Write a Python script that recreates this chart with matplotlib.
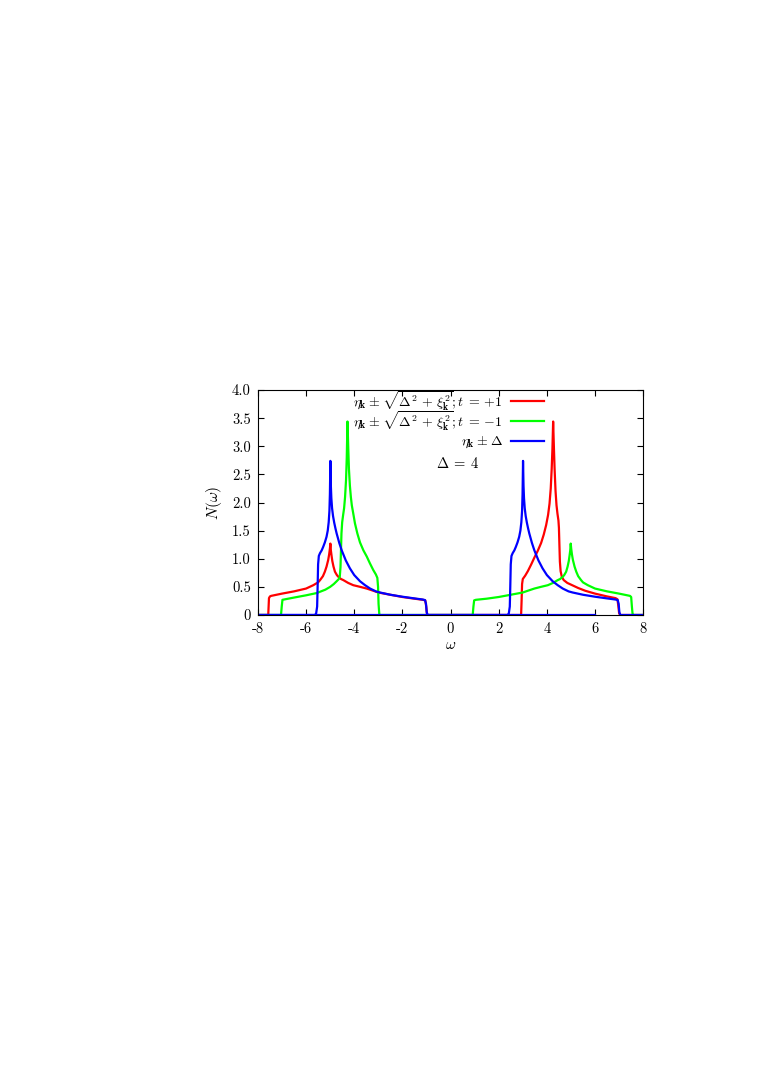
import matplotlib
matplotlib.use('Agg')
import matplotlib.pyplot as plt

plt.rcParams['font.family'] = ['cmr10', 'DejaVu Serif']
plt.rcParams['mathtext.fontset'] = 'cm'
plt.rcParams['axes.unicode_minus'] = False

# Densidad de estados
red_x = [-8, -7.57, -7.54, -7.5, -7.45, -7.0, -6.5, -6.0, -5.7, -5.5, -5.42, -5.3, -5.22, -5.15,
         -5.08, -5.04, -5.01, -4.99, -4.97, -4.94, -4.91, -4.86, -4.8, -4.72, -4.66, -4.55, -4.45,
         -4.25, -4.04, -3.75, -3.48, -3.2, -3.0, -2.5, -2.0, -1.5, -1.15, -1.05, -1.01, -0.98, -0.95,
         2.93, 2.95, 2.97, 3.0, 3.1, 3.21, 3.35, 3.48, 3.62, 3.76, 3.87, 3.97, 4.05, 4.11, 4.16, 4.2,
         4.23, 4.26, 4.29, 4.32, 4.36, 4.4, 4.44, 4.48, 4.5, 4.52, 4.54, 4.57, 4.62, 4.7, 4.85, 5.0,
         5.3, 5.6, 6.0, 6.5, 6.85, 6.93, 6.97, 7.0, 7.04, 8]
red_y = [0, 0, 0.3, 0.33, 0.34, 0.38, 0.42, 0.47, 0.53, 0.58, 0.62, 0.69, 0.77, 0.86,
         0.98, 1.08, 1.18, 1.27, 1.15, 1.05, 0.96, 0.86, 0.77, 0.71, 0.68, 0.64, 0.62,
         0.57, 0.53, 0.5, 0.47, 0.43, 0.40, 0.36, 0.32, 0.29, 0.27, 0.26, 0.15, 0.02, 0,
         0, 0.25, 0.55, 0.64, 0.7, 0.78, 0.9, 1.02, 1.14, 1.28, 1.43, 1.6, 1.78, 1.98, 2.25, 2.6,
         2.95, 3.44, 3.0, 2.6, 2.2, 1.95, 1.8, 1.68, 1.55, 1.25, 0.95, 0.78, 0.68, 0.62, 0.57, 0.54,
         0.48, 0.43, 0.38, 0.33, 0.3, 0.28, 0.15, 0.03, 0, 0]

green_x = [-8, -7.04, -7.01, -6.98, -6.5, -6.25, -6.0, -5.56, -5.2, -5.0, -4.85, -4.73, -4.64, -4.6,
           -4.57, -4.55, -4.53, -4.5, -4.46, -4.42, -4.38, -4.34, -4.31, -4.28, -4.25, -4.22, -4.18,
           -4.14, -4.1, -4.03, -3.97, -3.87, -3.76, -3.62, -3.48, -3.35, -3.21, -3.1, -3.04, -3.01,
           -2.99, -2.96, -2.93,
           0.92, 0.95, 0.98, 1.05, 1.5, 2.0, 2.5, 3.0, 3.2, 3.48, 3.75, 4.04, 4.25, 4.45, 4.55, 4.66,
           4.72, 4.8, 4.86, 4.91, 4.94, 4.97, 4.99, 5.01, 5.04, 5.08, 5.15, 5.22, 5.3, 5.42, 5.5, 5.7,
           6.0, 6.5, 7.0, 7.45, 7.5, 7.53, 7.56, 7.6, 8]
green_y = [0, 0, 0.15, 0.27, 0.31, 0.33, 0.35, 0.39, 0.45, 0.5, 0.55, 0.6, 0.64, 0.68,
           0.85, 1.15, 1.45, 1.65, 1.78, 1.9, 2.1, 2.4, 2.8, 3.44, 3.0, 2.6, 2.3,
           2.1, 1.95, 1.78, 1.63, 1.45, 1.29, 1.15, 1.04, 0.92, 0.8, 0.72, 0.66, 0.5,
           0.2, 0.02, 0,
           0, 0.15, 0.26, 0.27, 0.29, 0.32, 0.36, 0.40, 0.43, 0.47, 0.5, 0.53, 0.57, 0.62, 0.64, 0.68,
           0.71, 0.77, 0.86, 0.96, 1.05, 1.15, 1.27, 1.18, 1.08, 0.98, 0.86, 0.77, 0.69, 0.62, 0.58, 0.53,
           0.47, 0.42, 0.38, 0.34, 0.32, 0.15, 0.01, 0, 0]

blue_x = [-8, -5.63, -5.58, -5.54, -5.52, -5.5, -5.47, -5.42, -5.35, -5.29, -5.22, -5.15, -5.1,
          -5.06, -5.03, -5.01, -4.99, -4.97, -4.95, -4.92, -4.88, -4.83, -4.78, -4.73, -4.62, -4.52,
          -4.35, -4.18, -4.0, -3.76, -3.55, -3.34, -3.1, -2.93, -2.5, -2.0, -1.5, -1.15, -1.06, -1.02,
          -0.99, -0.95,
          2.37, 2.42, 2.46, 2.48, 2.5, 2.53, 2.58, 2.65, 2.71, 2.78, 2.85, 2.9,
          2.94, 2.97, 2.99, 3.01, 3.03, 3.05, 3.08, 3.12, 3.17, 3.22, 3.27, 3.38, 3.48,
          3.65, 3.82, 4.0, 4.24, 4.45, 4.66, 4.9, 5.07, 5.5, 6.0, 6.5, 6.85, 6.94, 6.98,
          7.01, 7.05, 8]
blue_y = [0, 0, 0.03, 0.15, 0.5, 0.9, 1.05, 1.1, 1.15, 1.21, 1.29, 1.39, 1.5,
          1.65, 1.85, 2.15, 2.74, 2.3, 2.08, 1.9, 1.76, 1.64, 1.54, 1.45, 1.28, 1.15,
          0.97, 0.83, 0.71, 0.6, 0.53, 0.47, 0.42, 0.4, 0.36, 0.325, 0.295, 0.275, 0.265, 0.2,
          0.05, 0,
          0, 0.03, 0.15, 0.5, 0.9, 1.05, 1.1, 1.15, 1.21, 1.29, 1.39, 1.5,
          1.65, 1.85, 2.15, 2.74, 2.3, 2.08, 1.9, 1.76, 1.64, 1.54, 1.45, 1.28, 1.15,
          0.97, 0.83, 0.71, 0.6, 0.53, 0.47, 0.42, 0.4, 0.36, 0.325, 0.295, 0.275, 0.265, 0.2,
          0.05, 0, 0]

# linea base azul (se corta entre 6 y 7)
blue_base_x = [-8, 6]
blue_base_y = [0, 0]

x_ticks = [-8, -6, -4, -2, 0, 2, 4, 6, 8]
x_labels = ['-8', '-6', '-4', '-2', '0', '2', '4', '6', '8']
y_ticks = [0, 0.5, 1.0, 1.5, 2.0, 2.5, 3.0, 3.5, 4.0]
y_labels = ['0', '0.5', '1.0', '1.5', '2.0', '2.5', '3.0', '3.5', '4.0']

labels = [r'$\eta_{\mathbf{k}} \:\pm\: \sqrt{\Delta^2 \,+\, \xi_{\mathbf{k}}^2}; t \:=\: {+}1$',
          r'$\eta_{\mathbf{k}} \:\pm\: \sqrt{\Delta^2 \,+\, \xi_{\mathbf{k}}^2}; t \:=\: {-}1$',
          r'$\eta_{\mathbf{k}} \:\pm\: \Delta$']
colors = ['#ff0000', '#00ff00', '#0000ff']

fig = plt.figure(figsize=(7.63, 10.78), dpi=100)
ax = fig.add_axes([0.338, 0.4295, 0.505, 0.2087])

lw = 1.6
ax.plot(red_x, red_y, color=colors[0], lw=lw)
ax.plot(green_x, green_y, color=colors[1], lw=lw)
ax.plot(blue_base_x, blue_base_y, color=colors[2], lw=lw)
ax.plot(blue_x, blue_y, color=colors[2], lw=lw)

ax.set_xlim(-8, 8)
ax.set_ylim(0, 4)
ax.set_xticks(x_ticks)
ax.set_xticklabels(x_labels)
ax.set_yticks(y_ticks)
ax.set_yticklabels(y_labels)
ax.tick_params(direction='in', length=4.5, width=0.8, top=True, right=True,
               labelsize=10.5, pad=5)
for s in ax.spines.values():
    s.set_linewidth(0.8)

ax.set_xlabel(r'$\omega$', fontsize=11, labelpad=2)
ax.set_ylabel(r'$N(\omega)$', fontsize=11, labelpad=6)

# leyenda al estilo gnuplot: texto alineado a la derecha, linea despues
text_base = [0.926, 0.841, 0.756]
line_y = [0.952, 0.864, 0.775]
for lab, c, tb, ly in zip(labels, colors, text_base, line_y):
    ax.text(0.636, tb, lab, transform=ax.transAxes, fontsize=10,
            ha='right', va='baseline')
    ax.plot([0.657, 0.743], [ly, ly], transform=ax.transAxes, color=c, lw=lw,
            clip_on=False)

ax.text(0.519, 0.655, r'$\Delta \:=\: 4$', transform=ax.transAxes, fontsize=10.5,
        ha='center', va='baseline')

fig.savefig('out.png', dpi=100)
